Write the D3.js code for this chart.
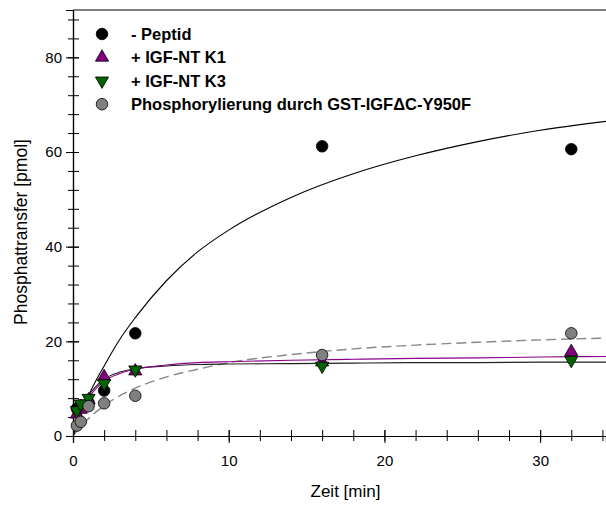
<!DOCTYPE html>
<html>
<head>
<meta charset="utf-8">
<script src="https://cdn.jsdelivr.net/npm/d3@7"></script>
<style>
  body { margin: 0; background: #fff; }
  text { font-family: "Liberation Sans", Arial, sans-serif; }
</style>
</head>
<body>
<div id="chart"></div>
<script>
/*
#################################################
SECTION 1: DATA
#################################################
*/
//measured points (Zeit in min, Phosphattransfer in pmol)
var times = [0.25, 0.5, 1, 2, 4, 16, 32];
var peptid = [5.8, 6.5, 7.0, 9.6, 21.7, 61.2, 60.6];
var k1 = [4.6, 5.6, 7.6, 12.5, 13.7, 15.6, 17.8];
var k3 = [5.4, 6.8, 8.0, 11.1, 14.0, 14.8, 16.0];
var gstY950F = [2.2, 3.0, 6.3, 6.9, 8.5, 17.1, 21.7];

//fitted curves
var fitTimes = [0, 0.5, 1, 2, 3, 4, 6, 8, 10, 14, 18, 22, 26, 30, 34.3];
var fitPeptid = [0, 4.3, 8.5, 14.8, 20.4, 25.0, 32.8, 38.9, 43.5, 50.4, 55.4, 59.2, 62.2, 64.6, 66.5];
var fitK1 = [0, 5.0, 8.0, 11.6, 13.2, 14.1, 15.0, 15.5, 15.7, 16.0, 16.2, 16.4, 16.5, 16.7, 16.8];
var fitK3 = [0, 5.4, 8.5, 12.0, 13.5, 14.2, 14.8, 15.1, 15.2, 15.3, 15.4, 15.5, 15.5, 15.6, 15.6];
var fitGst = [0, 2.0, 3.7, 6.4, 8.5, 10.1, 12.5, 14.1, 15.5, 17.2, 18.4, 19.2, 19.8, 20.3, 20.7];

var legendLabels = ["- Peptid", "+ IGF-NT K1", "+ IGF-NT K3", "Phosphorylierung durch GST-IGF\u0394C-Y950F"];
var xTicks = [0, 10, 20, 30];
var yTicks = [0, 20, 40, 60, 80];

/*
#################################################
SECTION 2: DRAWING AREA AND SCALES
#################################################
*/
var width = 606, height = 506,
    margin = {top: 10, right: 0, bottom: 70, left: 73},
    plotWidth = width - margin.left - margin.right,
    plotHeight = height - margin.top - margin.bottom;

var svg = d3.select('#chart').append('svg')
    .attr('width', width)
    .attr('height', height);

var plot = svg.append('g')
    .attr('transform', 'translate(' + margin.left + ',' + margin.top + ')');

var xScale = d3.scaleLinear().domain([0, 34.23]).range([0, plotWidth]);
var yScale = d3.scaleLinear().domain([0, 90]).range([plotHeight, 0]);

svg.append('clipPath').attr('id', 'plotClip')
  .append('rect').attr('width', plotWidth).attr('height', plotHeight);

/*
#################################################
SECTION 3: AXES
#################################################
*/
//minor ticks outside, major ticks cross the axis line
var xMinor = d3.range(0, 35, 2);
var yMinor = d3.range(0, 90, 4);

var xAxisG = plot.append('g').attr('transform', 'translate(0,' + plotHeight + ')');
xAxisG.call(d3.axisBottom(xScale).tickValues(xMinor).tickSize(5).tickFormat(''));
xAxisG.append('g').call(d3.axisBottom(xScale).tickValues(xTicks).tickSize(7).tickFormat(d3.format('d')));
xAxisG.selectAll('.domain').attr('stroke-width', 1.2);
xAxisG.selectAll('line').attr('stroke-width', 1);
xAxisG.selectAll('g > g .tick line').attr('y1', -6);
xAxisG.selectAll('text').attr('font-size', 15).attr('dy', '1.3em').attr('fill', '#000');

var yAxisG = plot.append('g');
yAxisG.call(d3.axisLeft(yScale).tickValues(yMinor).tickSize(5).tickFormat(''));
yAxisG.append('g').call(d3.axisLeft(yScale).tickValues(yTicks).tickSize(7).tickFormat(d3.format('d')));
yAxisG.selectAll('.domain').attr('stroke-width', 1.2);
yAxisG.selectAll('g > g .tick line').attr('x1', 6);
yAxisG.selectAll('text').attr('font-size', 15).attr('x', -11).attr('fill', '#000');

//top frame line
plot.append('line')
    .attr('x1', 0).attr('x2', plotWidth)
    .attr('y1', 0).attr('y2', 0)
    .attr('stroke', '#000').attr('stroke-width', 1.2);

svg.append('text')
    .attr('transform', 'translate(27,232) rotate(-90)')
    .attr('text-anchor', 'middle')
    .attr('font-size', 17.5)
    .text('Phosphattransfer [pmol]');

svg.append('text')
    .attr('x', margin.left + xScale(17.5))
    .attr('y', 497)
    .attr('text-anchor', 'middle')
    .attr('font-size', 17)
    .text('Zeit [min]');

/*
#################################################
SECTION 4: FIT CURVES
#################################################
*/
function drawFit(values, color, dash) {
  var line = d3.line()
      .x(function(d, i) {return xScale(fitTimes[i]);})
      .y(function(d) {return yScale(d);})
      .curve(d3.curveMonotoneX);
  plot.append('path')
      .datum(values)
      .attr('clip-path', 'url(#plotClip)')
      .attr('d', line)
      .attr('fill', 'none')
      .attr('stroke', color)
      .attr('stroke-width', dash ? 1.4 : 1.1)
      .attr('stroke-dasharray', dash ? '10,5' : null);
}
drawFit(fitGst, '#888', true);
drawFit(fitK3, '#222', false);
drawFit(fitK1, '#8b008b', false);
drawFit(fitPeptid, '#000', false);

/*
#################################################
SECTION 5: POINTS AND LEGEND
#################################################
*/
var series = [
  {values: peptid, symbol: d3.symbolCircle, fill: '#000', size: 105, rot: 0},
  {values: k1, symbol: d3.symbolTriangle, fill: '#800080', size: 75, rot: 0},
  {values: k3, symbol: d3.symbolTriangle, fill: '#006400', size: 75, rot: 180},
  {values: gstY950F, symbol: d3.symbolCircle, fill: '#808080', size: 105, rot: 0}
];

function marker(g, s) {
  g.append('path')
      .attr('d', d3.symbol().type(s.symbol).size(s.size)())
      .attr('fill', s.fill)
      .attr('stroke', '#000')
      .attr('stroke-width', 0.8);
}

series.forEach(function(s) {
  plot.selectAll(null).data(s.values)
    .enter().append('g')
      .attr('transform', function(d, i) {
        return 'translate(' + xScale(times[i]) + ',' + yScale(d) + ') rotate(' + s.rot + ')';
      })
      .each(function() {marker(d3.select(this), s);});
});

var legend = svg.append('g').attr('transform', 'translate(102,34)');
series.forEach(function(s, i) {
  var row = legend.append('g').attr('transform', 'translate(0,' + (i * 23.4) + ')');
  var m = row.append('g').attr('transform', 'rotate(' + s.rot + ')');
  marker(m, s);
  row.append('text')
      .attr('x', 29)
      .attr('y', 6)
      .attr('font-size', 16.5)
      .attr('font-weight', 'bold')
      .text(legendLabels[i]);
});
</script>
</body>
</html>
